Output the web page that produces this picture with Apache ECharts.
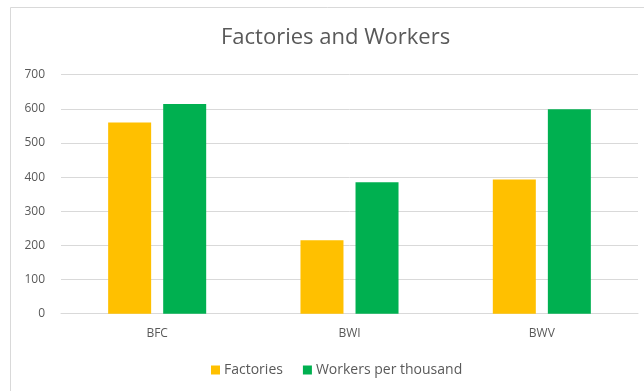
<!DOCTYPE html>
<html>
<head>
<meta charset="utf-8">
<script src="https://cdn.jsdelivr.net/npm/echarts@6/dist/echarts.min.js"></script>
<style>
  html, body { margin: 0; padding: 0; background: #fff; }
  #chart { width: 644px; height: 391px; }
</style>
</head>
<body>
<div id="chart"></div>
<script>
const categories = ['BFC', 'BWI', 'BWV'];
const factories = [560, 215, 393];
const workersPerThousand = [614, 385, 599];
const yTicks = [0, 100, 200, 300, 400, 500, 600, 700];

const chart = echarts.init(document.getElementById('chart'));
const font = '"Open Sans", "Noto Sans", sans-serif';

chart.setOption({
  animation: false,
  backgroundColor: '#fff',
  graphic: [{
    type: 'rect',
    shape: { x: 10.5, y: 7.5, width: 700, height: 500 },
    style: { fill: 'none', stroke: '#d9d9d9', lineWidth: 1 },
    silent: true
  }],
  title: {
    text: 'Factories and Workers',
    left: 216,
    top: 22,
    textStyle: { fontFamily: font, fontSize: 22, fontWeight: 'normal', color: '#595959' }
  },
  legend: {
    bottom: 9,
    left: 206,
    itemWidth: 9,
    itemHeight: 9,
    itemGap: 20,
    icon: 'rect',
    textStyle: { fontFamily: font, fontSize: 14, color: '#595959', padding: [0, 0, 0, -1] },
    data: ['Factories', 'Workers per thousand']
  },
  grid: { left: 61, right: 6, top: 74.7, bottom: 77.3, containLabel: false },
  xAxis: {
    type: 'category',
    data: categories,
    axisLine: { lineStyle: { color: '#d9d9d9', width: 1 } },
    axisTick: { show: false },
    axisLabel: { fontFamily: font, fontSize: 12, color: '#595959', margin: 14 }
  },
  yAxis: {
    type: 'value',
    min: yTicks[0],
    max: yTicks[yTicks.length - 1],
    interval: 100,
    axisLine: { show: false },
    axisTick: { show: false },
    splitLine: { lineStyle: { color: '#d9d9d9', width: 1 } },
    axisLabel: { fontFamily: font, fontSize: 12, color: '#595959', margin: 16 }
  },
  series: [
    {
      name: 'Factories',
      type: 'bar',
      data: factories,
      barWidth: 43,
      barGap: '28%',
      itemStyle: { color: '#FFC000' }
    },
    {
      name: 'Workers per thousand',
      type: 'bar',
      data: workersPerThousand,
      barWidth: 43,
      barGap: '28%',
      itemStyle: { color: '#00B050' }
    }
  ]
});
</script>
</body>
</html>
